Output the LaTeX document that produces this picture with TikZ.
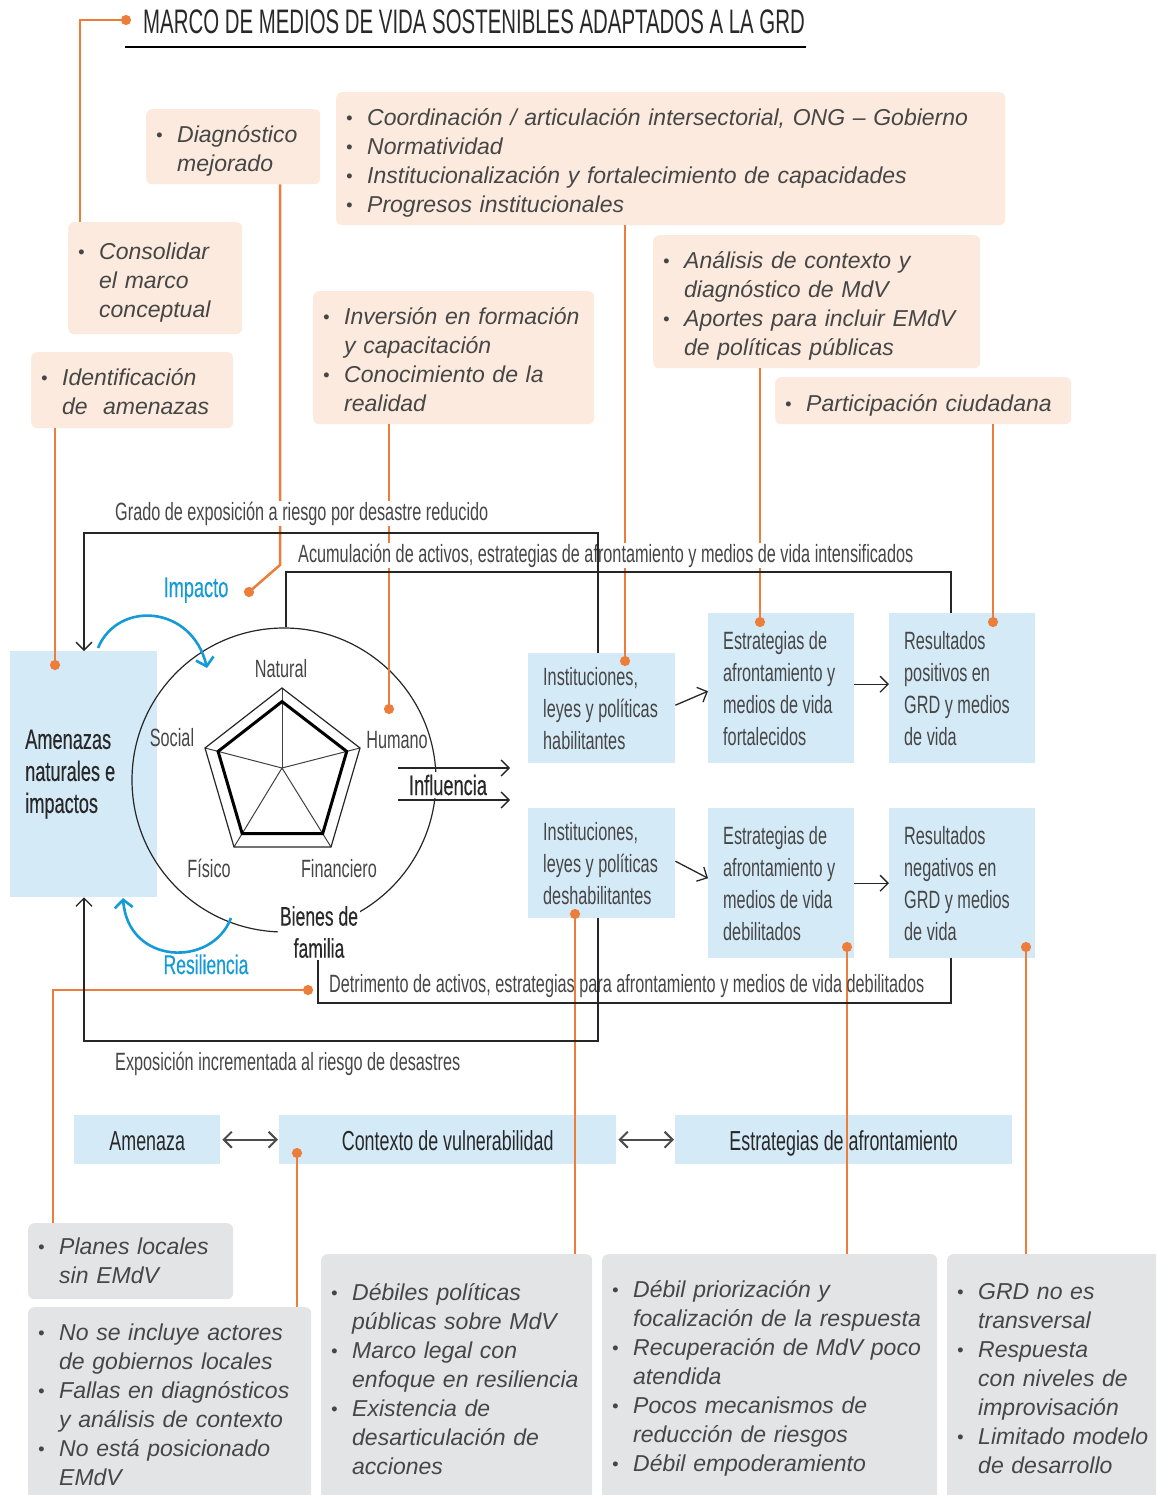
\documentclass[tikz,border=0pt]{standalone}
\usepackage{fontspec}
\setmainfont{Liberation Sans}
\newfontfamily\condfont[FakeStretch=0.65]{Liberation Sans}
\newfontfamily\condbold[FakeStretch=0.65,FakeBold=0.3]{Liberation Sans}
\newfontfamily\titlefont[FakeStretch=0.6]{Liberation Sans}
\usetikzlibrary{calc,arrows.meta}

\definecolor{tanfill}{RGB}{251,234,221}
\definecolor{bluefill}{RGB}{213,234,247}
\definecolor{grayfill}{RGB}{227,228,230}
\definecolor{linkorange}{RGB}{236,125,58}
\definecolor{arcblue}{RGB}{20,155,215}
\definecolor{txtgray}{RGB}{70,70,70}
\definecolor{txtdark}{RGB}{40,40,40}

\newcommand{\itfont}{\itshape\fontsize{23}{29}\selectfont}
\newcommand{\cnfont}{\condfont\fontsize{25}{32}\selectfont}
\newcommand{\itemdot}{\makebox[22pt][l]{\hspace{1pt}\raisebox{1pt}{\scalebox{0.8}{\textbullet}}}}
\newcommand{\itemgap}{\hspace*{22pt}}

\tikzset{
  tanbox/.style={fill=tanfill, rounded corners=6pt, anchor=north west, inner xsep=9pt,
    inner ysep=0pt, align=left, font=\itfont, text=txtgray, text height=26pt},
  graybox/.style={fill=grayfill, rounded corners=6pt, anchor=north west, inner xsep=9pt,
    inner ysep=0pt, align=left, font=\itfont, text=txtgray},
  bluebox/.style={fill=bluefill, anchor=north west, inner xsep=0pt, inner ysep=0pt,
    align=left, font=\cnfont, text=txtgray,
    execute at begin node={\leftskip=15pt\spaceskip=\fontdimen2\font\relax}},
  bandbox/.style={fill=bluefill, anchor=north west, inner sep=0pt, text height=23pt, text depth=2pt,
    font=\condfont\fontsize{27.5}{32}\selectfont, text=txtdark},
  orangelink/.style={draw=linkorange, line width=2.5pt},
  dotend/.style={orangelink, -{Circle[length=10pt]}, shorten >=-5pt},
  flowline/.style={draw=black!85, line width=1.3pt},
  barbtip/.style={-{Straight Barb[length=8pt,width=16pt]}},
  twoway/.style={draw=black!70, line width=2pt,
    {Straight Barb[length=8pt,width=16pt]}-{Straight Barb[length=8pt,width=16pt]},
    shorten <=2pt, shorten >=1pt},
  flowlabel/.style={font=\cnfont, text=txtgray, inner sep=1pt, anchor=base west},
  assetlabel/.style={font=\cnfont, text=txtgray, inner sep=0pt, anchor=base},
  bluearc/.style={draw=arcblue, line width=2.6pt, -{Straight Barb[length=8pt,width=18pt]}}
}

\begin{document}
\begin{tikzpicture}[x=1pt,y=-1pt]

\useasboundingbox (0,0) rectangle (1156,1495);
\clip (0,0) rectangle (1156,1495);

% title
\node[font=\titlefont\fontsize{34}{36}\selectfont, text=txtdark, anchor=base west, inner sep=0pt]
  (title) at (143,34) {MARCO DE MEDIOS DE VIDA SOSTENIBLES ADAPTADOS A LA GRD};
\coordinate (ulA) at (125,47);
\coordinate (ulB) at (806,47);
\draw[line width=1.2pt] (ulA) -- (ulB);

% upper notes
\node[tanbox, text width=156, minimum height=75] (diag) at (146,109)
  {\itemdot Diagnóstico\\ \itemgap mejorado};
\node[tanbox, text width=651, minimum height=133] (coord) at (336,92)
  {\itemdot Coordinación / articulación intersectorial, ONG – Gobierno\\
   \itemdot Normatividad\\
   \itemdot Institucionalización y fortalecimiento de capacidades\\
   \itemdot Progresos institucionales};
\node[tanbox, text width=156, minimum height=112] (consol) at (68,222)
  {\itemdot Consolidar\\ \itemgap el marco\\ \itemgap conceptual};
\node[tanbox, text width=263, minimum height=133, text height=20pt] (invers) at (313,291)
  {\itemdot Inversión en formación\\ \itemgap y capacitación\\
   \itemdot Conocimiento de la\\ \itemgap realidad};
\node[tanbox, text width=309, minimum height=133] (analis) at (653,235)
  {\itemdot Análisis de contexto y\\ \itemgap diagnóstico de MdV\\
   \itemdot Aportes para incluir EMdV\\ \itemgap de políticas públicas};
\node[tanbox, text width=278, minimum height=47] (partic) at (775,377)
  {\itemdot Participación ciudadana};
\node[tanbox, text width=184, minimum height=76, text height=20pt] (ident) at (31,352)
  {\itemdot Identificación\\ \itemgap de\ \ amenazas};

% framework boxes
\node[bluebox, text width=147, minimum height=246, text=txtdark,
  font=\condbold\fontsize{28}{32}\selectfont] (amen) at (10,651)
  {Amenazas\\ naturales e\\ impactos};
\node[bluebox, text width=147, minimum height=110] (inshab) at (528,653)
  {Instituciones,\\ leyes y políticas\\ habilitantes};
\node[bluebox, text width=146, minimum height=150] (estfor) at (708,613)
  {Estrategias de\\ afrontamiento y\\ medios de vida\\ fortalecidos};
\node[bluebox, text width=146, minimum height=150] (respos) at (889,613)
  {Resultados\\ positivos en\\ GRD y medios\\ de vida};
\node[bluebox, text width=147, minimum height=110] (insdes) at (528,808)
  {Instituciones,\\ leyes y políticas\\ deshabilitantes};
\node[bluebox, text width=146, minimum height=150] (estdeb) at (708,808)
  {Estrategias de\\ afrontamiento y\\ medios de vida\\ debilitados};
\node[bluebox, text width=146, minimum height=150] (resneg) at (889,808)
  {Resultados\\ negativos en\\ GRD y medios\\ de vida};

\node[bandbox, minimum width=146, minimum height=49] (amenaza) at (74,1115) {Amenaza};
\node[bandbox, minimum width=337, minimum height=49] (contexto) at (279,1115) {Contexto de vulnerabilidad};
\node[bandbox, minimum width=337, minimum height=49] (estraf) at (675,1115) {Estrategias de afrontamiento};
\draw[twoway] (amenaza.east) -- (contexto.west);
\draw[twoway] (contexto.east) -- (estraf.west);

% lower notes
\node[graybox, text width=187, minimum height=76] (planes) at (28,1223)
  {\itemdot Planes locales\\ \itemgap sin EMdV};
\node[graybox, text width=265, minimum height=196] (noinc) at (28,1307)
  {\itemdot No se incluye actores\\ \itemgap de gobiernos locales\\
   \itemdot Fallas en diagnósticos\\ \itemgap y análisis de contexto\\
   \itemdot No está posicionado\\ \itemgap EMdV};
\node[graybox, text width=253, minimum height=249] (debpol) at (321,1254)
  {\itemdot Débiles políticas\\ \itemgap públicas sobre MdV\\
   \itemdot Marco legal con\\ \itemgap enfoque en resiliencia\\
   \itemdot Existencia de\\ \itemgap desarticulación de\\ \itemgap acciones};
\node[graybox, text width=317, minimum height=249] (debpri) at (602,1254)
  {\itemdot Débil priorización y\\ \itemgap focalización de la respuesta\\
   \itemdot Recuperación de MdV poco\\ \itemgap atendida\\
   \itemdot Pocos mecanismos de\\ \itemgap reducción de riesgos\\
   \itemdot Débil empoderamiento};
\node[graybox, text width=202, minimum height=249] (grdno) at (947,1254)
  {\itemdot GRD no es\\ \itemgap transversal\\
   \itemdot Respuesta\\ \itemgap con niveles de\\ \itemgap improvisación\\
   \itemdot Limitado modelo\\ \itemgap de desarrollo};

% household assets
\node[circle, draw=black!85, line width=1.2pt, minimum size=304, inner sep=0pt] (assets) at (284,780) {};
\coordinate (pc) at (282,768);
\coordinate (p1) at (282,688);
\coordinate (p2) at (360,748);
\coordinate (p3) at (331,847);
\coordinate (p4) at (234,847);
\coordinate (p5) at (205,748);
\foreach \k in {1,...,5}
  \draw[black!75, line width=1pt] (pc) -- (p\k);
\draw[black!85, line width=1.2pt] (p1) -- (p2) -- (p3) -- (p4) -- (p5) -- cycle;
\draw[black, line width=3pt] ($(pc)!0.83!(p1)$) -- ($(pc)!0.83!(p2)$) -- ($(pc)!0.83!(p3)$)
  -- ($(pc)!0.83!(p4)$) -- ($(pc)!0.83!(p5)$) -- cycle;
\node[assetlabel] (natural) at (281,677) {Natural};
\node[assetlabel] (social) at (172,746) {Social};
\node[assetlabel] (humano) at (397,748) {Humano};
\node[assetlabel] (fisico) at (209,877) {Físico};
\node[assetlabel] (financ) at (339,877) {Financiero};
\node[font=\condbold\fontsize{27}{32}\selectfont, text=txtdark, fill=white, align=center, inner sep=2pt]
  (bienes) at (319,932) {Bienes de\\familia};

% orange links
\coordinate (titledot) at (126,20);
\coordinate (titlebend) at (80,20);
\draw[dotend] (titlebend |- consol.north) -- (titlebend) -- (titledot);
\coordinate (amendot) at (55,665);
\draw[dotend] (amendot |- ident.south) -- (amendot);
\coordinate (impdot) at (249,592);
\coordinate (diagbend) at (280,565);
\draw[dotend] (diagbend |- diag.south) -- (diagbend) -- (impdot);
\coordinate (humdot) at (389,709);
\draw[dotend] (humdot |- invers.south) -- (humdot);
\coordinate (habdot) at (625,661);
\draw[dotend] (habdot |- coord.south) -- (habdot);
\coordinate (fordot) at (760,622);
\draw[dotend] (fordot |- analis.south) -- (fordot);
\coordinate (posdot) at (993,622);
\draw[dotend] (posdot |- partic.south) -- (posdot);
\coordinate (desdot) at (575,914);
\draw[dotend] (desdot |- debpol.north) -- (desdot);
\coordinate (debdot) at (847,947);
\draw[dotend] (debdot |- debpri.north) -- (debdot);
\coordinate (negdot) at (1026,947);
\draw[dotend] (negdot |- grdno.north) -- (negdot);
\coordinate (detdot) at (308,990);
\coordinate (detbend) at (53,990);
\draw[dotend] (detbend |- planes.north) -- (detbend) -- (detdot);
\coordinate (ctxdot) at (297,1153);
\draw[dotend] (ctxdot |- noinc.north) -- (ctxdot);

% feedback loops
\node[flowlabel, fill=white] (gradotxt) at (114,520) {Grado de exposición a riesgo por desastre reducido};
\node[flowlabel, fill=white] (acumtxt) at (297,562) {Acumulación de activos, estrategias de afrontamiento y medios de vida intensificados};
\node[flowlabel] (dettxt) at (328,992) {Detrimento de activos, estrategias para afrontamiento y medios de vida debilitados};
\node[flowlabel] (exptxt) at (114,1070) {Exposición incrementada al riesgo de desastres};

\coordinate (gradoR) at (598,533);
\coordinate (gradoL) at (84,533);
\draw[flowline, barbtip] (gradoR |- inshab.north) -- (gradoR) -- (gradoL) -- (gradoL |- amen.north);
\coordinate (acumR) at (951,572);
\coordinate (acumL) at (286,572);
\draw[flowline] (acumR |- respos.north) -- (acumR) -- (acumL) -- (acumL |- assets.north);
\coordinate (detR) at (951,1003);
\coordinate (detL) at (318,1003);
\draw[flowline] (detR |- resneg.south) -- (detR) -- (detL) -- (detL |- bienes.south);
\coordinate (expR) at (598,1041);
\coordinate (expL) at (84,1041);
\draw[flowline, barbtip] (expR |- insdes.south) -- (expR) -- (expL) -- (expL |- amen.south);

% influence
\node[font=\condbold\fontsize{28}{32}\selectfont, text=txtdark, anchor=base, fill=white, inner sep=3pt]
  (influ) at (448,795) {Influencia};
\coordinate (infA1) at (398,768);
\coordinate (infA2) at (510,768);
\coordinate (infB1) at (398,800);
\coordinate (infB2) at (510,800);
\draw[flowline, barbtip] (infA1) -- (infA2);
\draw[flowline, barbtip] (infB1) -- (infB2);

\draw[flowline, barbtip] ([yshift=3pt]inshab.east) -- ([yshift=-3pt]estfor.west);
\draw[flowline, barbtip] ([yshift=4pt]estfor.east) -- ([yshift=4pt]respos.west);
\draw[flowline, barbtip] ([yshift=2pt]insdes.east) -- ([yshift=5pt]estdeb.west);
\draw[flowline, barbtip] (estdeb.east) -- (resneg.west);

% impact and resilience
\coordinate (impA) at (98,648);
\coordinate (impB) at (207,668);
\draw[bluearc] (impA) .. controls (118,600) and (192,605) .. (impB);
\node[font=\condbold\fontsize{28}{32}\selectfont, text=arcblue, anchor=base] (impacto) at (196,597) {Impacto};
\coordinate (resA) at (231,918);
\coordinate (resB) at (123,898);
\draw[bluearc] (resA) .. controls (212,968) and (128,965) .. (resB);
\node[font=\condbold\fontsize{27}{32}\selectfont, text=arcblue, anchor=base] (resil) at (206,974) {Resiliencia};

\end{tikzpicture}
\end{document}
